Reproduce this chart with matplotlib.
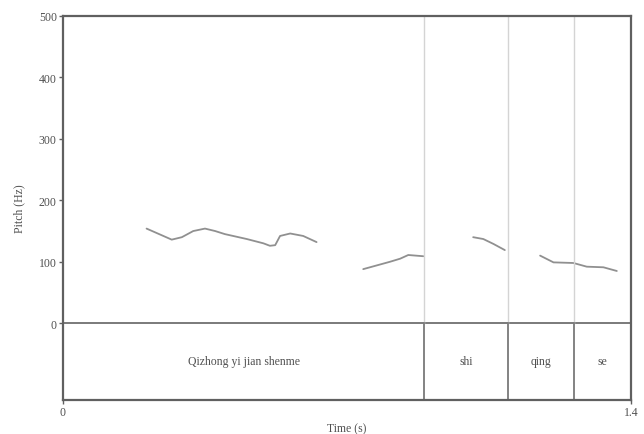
import matplotlib
matplotlib.use("Agg")
import matplotlib.pyplot as plt

plt.rcParams['font.family'] = ['Liberation Serif', 'DejaVu Serif']

# Pitch contour segments (time s, pitch Hz)
seg1_t = [0.206, 0.268, 0.293, 0.321, 0.350, 0.375, 0.399, 0.453, 0.494, 0.510, 0.523, 0.535, 0.560, 0.592, 0.625]
seg1_f = [154, 136, 140, 150, 154, 150, 145, 137, 130, 126, 127, 142, 146, 142, 132]
seg2_t = [0.740, 0.806, 0.831, 0.851, 0.888]
seg2_f = [88, 100, 105, 111, 109]
seg3_t = [1.011, 1.036, 1.061, 1.089]
seg3_f = [140, 137, 129, 119]
seg4_t = [1.176, 1.209, 1.258, 1.291, 1.332, 1.365]
seg4_f = [110, 99, 98, 92, 91, 85]

boundaries = [0.890, 1.097, 1.260]
labels = ["Qizhong yi jian shenme", "shi", "qing", "se"]
xmin, xmax = 0, 1.4
yticks = [0, 100, 200, 300, 400, 500]
tier_bottom = -125

fs = 8.5
txt_col = '#505050'
fig = plt.figure(figsize=(6.44, 4.35), dpi=100)
ax = fig.add_axes([63/644, 1-401/435, (631-63)/644, (401-17)/435])
ax.set_xlim(xmin, xmax)
ax.set_ylim(tier_bottom, 500)

frame_col = '#606060'
for s in ax.spines.values():
    s.set_color(frame_col)
    s.set_linewidth(1.6)

for t, f in [(seg1_t, seg1_f), (seg2_t, seg2_f), (seg3_t, seg3_f), (seg4_t, seg4_f)]:
    ax.plot(t, f, color='#909090', lw=1.3, solid_capstyle='round')

ax.axhline(0, color='#707070', lw=1.3)
for b in boundaries:
    ax.plot([b, b], [0, 500], color='#d4d4d4', lw=1.0)
    ax.plot([b, b], [tier_bottom, 0], color='#7a7a7a', lw=1.3)

edges = [xmin] + boundaries + [xmax]
for i, lab in enumerate(labels):
    ax.text((edges[i] + edges[i+1]) / 2, -62, lab, ha='center', va='center',
            fontsize=fs, color=txt_col)

ax.set_yticks(yticks)
ax.set_yticklabels([str(v) for v in yticks], fontsize=fs, color=txt_col)
ax.set_xticks([xmin, xmax])
ax.set_xticklabels(['0', '1.4'], fontsize=fs, color=txt_col)
ax.tick_params(axis='both', direction='out', length=3, width=1, color=frame_col, pad=1.5)
ax.set_ylabel('Pitch (Hz)', fontsize=fs, color=txt_col, labelpad=10)
ax.set_xlabel('Time (s)', fontsize=fs, color=txt_col, labelpad=3)

fig.savefig('out.png', dpi=100)
